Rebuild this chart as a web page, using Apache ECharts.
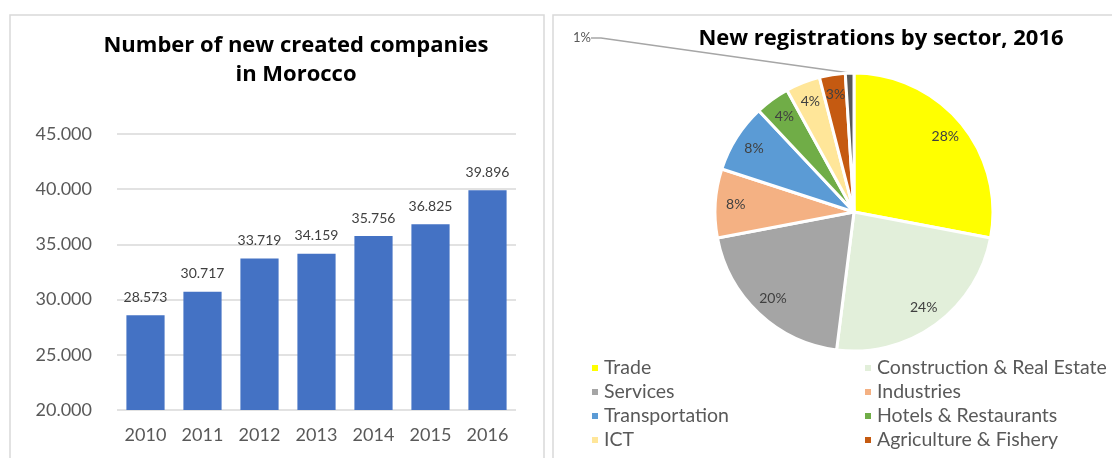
<!DOCTYPE html>
<html>
<head>
<meta charset="utf-8">
<script src="https://cdn.jsdelivr.net/npm/echarts@6/dist/echarts.min.js"></script>
<style>
  html, body { margin: 0; padding: 0; background: #fff; }
  #chart { width: 1112px; height: 458px; }
</style>
</head>
<body>
<div id="chart"></div>
<script>
// bar chart data
const years = ['2010', '2011', '2012', '2013', '2014', '2015', '2016'];
const newCompanies = [28573, 30717, 33719, 34159, 35756, 36825, 39896];
const yMin = 20000;
const yMax = 45000;
const yStep = 5000;

// pie chart data (percent of registrations)
const sectors = [
  'Trade', 'Construction & Real Estate', 'Services', 'Industries',
  'Transportation', 'Hotels & Restaurants', 'ICT', 'Agriculture & Fishery', 'Other'
];
const sectorShares = [28, 24, 20, 8, 8, 4, 4, 3, 1];

const sectorColors = ['#FFFF00', '#E2EFDA', '#A5A5A5', '#F4B183', '#5B9BD5',
  '#70AD47', '#FFE699', '#C55A11', '#595959'];

const FONT = 'Lato, "Open Sans", sans-serif';
const TITLE_FONT = '"Open Sans", Lato, sans-serif';

// 45000 -> 45.000
function dotThousands(v) {
  return String(v).replace(/\B(?=(\d{3})+(?!\d))/g, '.');
}

const pieData = sectors.map((name, i) => {
  const item = { name: name, value: sectorShares[i], itemStyle: { color: sectorColors[i] } };
  if (i === sectors.length - 1) {
    // the tiny slice gets an outside label with a leader line
    item.label = { show: true };
    item.labelLine = { show: true };
  }
  return item;
});

const legendLeft = sectors.filter((n, i) => i < 8 && i % 2 === 0);
const legendRight = sectors.filter((n, i) => i < 8 && i % 2 === 1);

const legendBase = {
  orient: 'vertical', top: 358, padding: 0,
  icon: 'rect', itemWidth: 8, itemHeight: 8, itemGap: 4,
  textStyle: { fontFamily: FONT, fontSize: 19.5, color: '#595959' }
};

const chart = echarts.init(document.getElementById('chart'), null, { renderer: 'canvas' });

chart.setOption({
  animation: false,
  textStyle: { fontFamily: FONT },
  graphic: [
    { type: 'rect', shape: { x: 10, y: 15, width: 534, height: 470 },
      style: { fill: 'none', stroke: '#D9D9D9', lineWidth: 1.5 }, z: -1 },
    { type: 'rect', shape: { x: 553, y: 15, width: 620, height: 470 },
      style: { fill: 'none', stroke: '#D9D9D9', lineWidth: 1.5 }, z: -1 }
  ],
  title: [
    {
      text: 'Number of new created companies\nin Morocco',
      left: 291, top: 26, textAlign: 'center',
      textStyle: { fontFamily: TITLE_FONT, fontSize: 22, fontWeight: 'bold', color: '#000', lineHeight: 29 }
    },
    {
      text: 'New registrations by sector, 2016',
      left: 876, top: 19, textAlign: 'center',
      textStyle: { fontFamily: TITLE_FONT, fontSize: 22, fontWeight: 'bold', color: '#000', lineHeight: 29 }
    }
  ],
  legend: [
    Object.assign({ data: legendLeft, left: 590 }, legendBase),
    Object.assign({ data: legendRight, left: 863 }, legendBase)
  ],
  grid: { left: 117, right: 596, top: 134, bottom: 48 },
  xAxis: {
    type: 'category',
    data: years,
    axisLine: { show: false },
    axisTick: { show: false },
    axisLabel: { fontSize: 18, color: '#595959', margin: 16, fontFamily: FONT }
  },
  yAxis: {
    type: 'value',
    min: yMin, max: yMax, interval: yStep,
    axisLine: { show: false },
    axisTick: { show: false },
    axisLabel: { fontSize: 18, color: '#595959', margin: 25, fontFamily: FONT, formatter: dotThousands },
    splitLine: { lineStyle: { color: '#D9D9D9', width: 1.5 } }
  },
  series: [
    {
      type: 'bar',
      data: newCompanies,
      barCategoryGap: '33%',
      itemStyle: { color: '#4472C4' },
      label: {
        show: true, position: 'top', distance: 11,
        fontSize: 14, color: '#404040', fontFamily: FONT,
        formatter: p => dotThousands(p.value)
      }
    },
    {
      // the pie itself
      type: 'pie',
      center: [854, 212],
      radius: 139,
      startAngle: 90,
      clockwise: true,
      data: pieData,
      itemStyle: { borderColor: '#fff', borderWidth: 3 },
      label: {
        show: false, position: 'outside', formatter: '{c}%',
        fontSize: 13, color: '#595959', fontFamily: FONT
      },
      labelLine: { show: false, lineStyle: { color: '#A6A6A6', width: 1.5 }, length: 10, length2: 10 },
      labelLayout: function (params) {
        if (params.dataIndex === sectors.length - 1) {
          return { x: 591, y: 38, align: 'right', verticalAlign: 'middle' };
        }
      },
      emphasis: { disabled: true }
    },
    {
      // transparent ring that only carries the inside percentage labels
      type: 'pie',
      center: [854, 212],
      radius: [92, 139],
      startAngle: 90,
      clockwise: true,
      silent: true,
      data: sectors.map((name, i) => ({
        name: name, value: sectorShares[i],
        label: { show: i < sectors.length - 1 }
      })),
      itemStyle: { color: 'rgba(0,0,0,0)' },
      label: {
        position: 'inside', formatter: '{c}%',
        fontSize: 14, color: '#404040', fontFamily: FONT
      },
      labelLine: { show: false },
      emphasis: { disabled: true }
    }
  ]
});
</script>
</body>
</html>
